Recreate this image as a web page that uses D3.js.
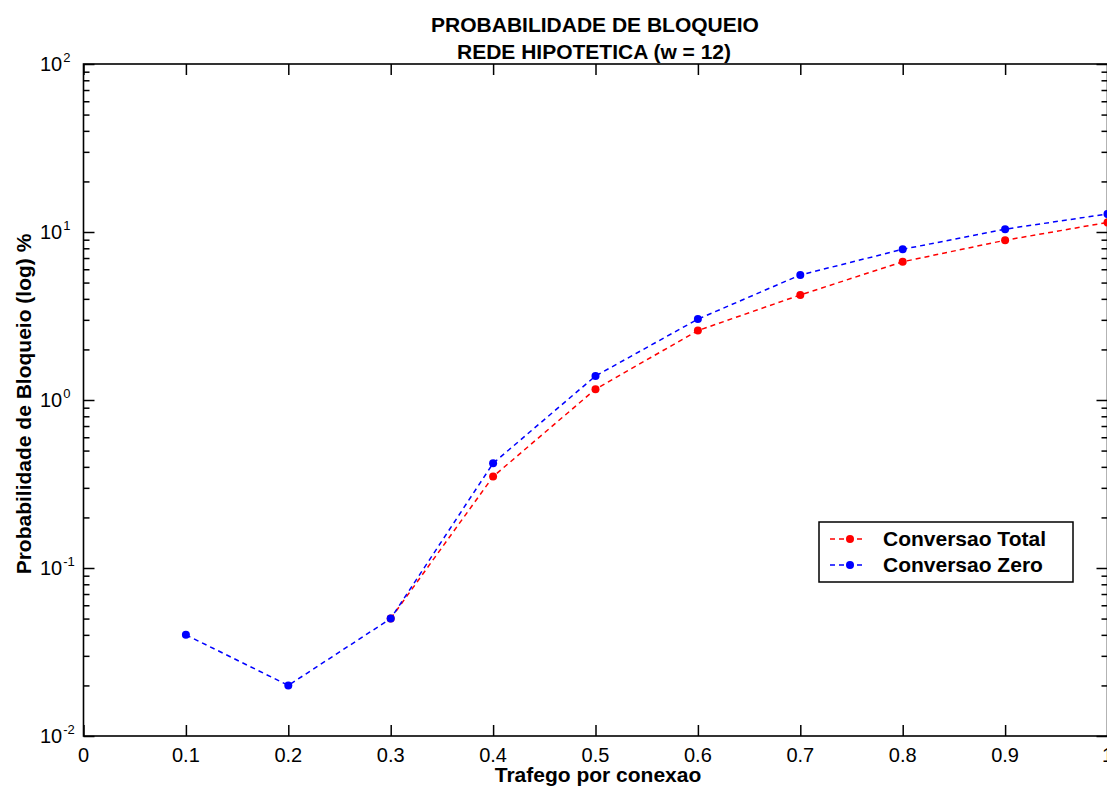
<!DOCTYPE html>
<html>
<head>
<meta charset="utf-8">
<script src="https://cdn.jsdelivr.net/npm/d3@7"></script>
<style>
  html, body { margin: 0; padding: 0; background: #fff; }
  svg { display: block; font-family: "Liberation Sans", Arial, sans-serif; }
  .domain { display: none; }
</style>
</head>
<body>
<svg id="chart" width="1107" height="787"></svg>
<script>
// Traffic per connection (x) and blocking probability in % (log scale)
const trafego = [0.1, 0.2, 0.3, 0.4, 0.5, 0.6, 0.7, 0.8, 0.9, 1.0];
const conversaoTotal = [null, null, 0.05, 0.35, 1.16, 2.59, 4.22, 6.65, 8.93, 11.4];
const conversaoZero  = [0.04, 0.02, 0.05, 0.42, 1.39, 3.03, 5.55, 7.89, 10.4, 12.8];
const xTicks = [0, 0.1, 0.2, 0.3, 0.4, 0.5, 0.6, 0.7, 0.8, 0.9, 1];
const xTickLabels = ["0", "0.1", "0.2", "0.3", "0.4", "0.5", "0.6", "0.7", "0.8", "0.9", "1"];
const yExponents = [-2, -1, 0, 1, 2];
const seriesNames = ["Conversao Total", "Conversao Zero"];
const seriesColors = ["#ff0000", "#0000ff"];

const svg = d3.select("#chart");
const plotLeft = 83.5, plotRight = 1107.5, plotTop = 64, plotBottom = 736;

const x = d3.scaleLinear().domain([0, 1]).range([plotLeft, plotRight]);
const y = d3.scaleLog().domain([0.01, 100]).range([plotBottom, plotTop]);

// minor ticks 2..9 within each decade
const yMinor = [];
for (let e = -2; e < 2; e++) for (let m = 2; m <= 9; m++) yMinor.push(m * Math.pow(10, e));
const yMajor = yExponents.map(e => Math.pow(10, e));

const axisStyle = g => g.selectAll("line").attr("stroke", "#000").attr("stroke-width", 1.5);

// x ticks: bottom and top, pointing inward
svg.append("g").attr("transform", `translate(0,${plotBottom})`)
  .call(d3.axisBottom(x).tickValues(xTicks).tickSize(-11).tickFormat(""))
  .call(axisStyle);
svg.append("g").attr("transform", `translate(0,${plotTop})`)
  .call(d3.axisTop(x).tickValues(xTicks).tickSize(-11).tickFormat(""))
  .call(axisStyle);

// y ticks: left and right, major and minor
[[d3.axisLeft, plotLeft], [d3.axisRight, plotRight]].forEach(([mk, pos]) => {
  svg.append("g").attr("transform", `translate(${pos},0)`)
    .call(mk(y).tickValues(yMajor).tickSize(-11).tickFormat(""))
    .call(axisStyle);
  svg.append("g").attr("transform", `translate(${pos},0)`)
    .call(mk(y).tickValues(yMinor).tickSize(-6).tickFormat(""))
    .call(axisStyle);
});

// frame
svg.append("rect")
  .attr("x", plotLeft).attr("y", plotTop)
  .attr("width", plotRight - plotLeft).attr("height", plotBottom - plotTop)
  .attr("fill", "none").attr("stroke", "#000").attr("stroke-width", 1.6);

// x tick labels
svg.append("g").selectAll("text").data(xTicks).join("text")
  .attr("x", d => x(d)).attr("y", plotBottom + 26)
  .attr("text-anchor", "middle")
  .attr("font-size", 20).attr("fill", "#000")
  .text((d, i) => xTickLabels[i]);

// y tick labels as powers of ten
const yl = svg.append("g").selectAll("text").data(yExponents).join("text")
  .attr("x", 40).attr("y", e => y(Math.pow(10, e)) + 7)
  .attr("font-size", 20).attr("fill", "#000");
yl.append("tspan").text("10");
yl.append("tspan").attr("dy", -9).attr("dx", 1).attr("font-size", 13).text(e => String(e));

// series
const line = d3.line()
  .defined(d => d[1] != null)
  .x(d => x(d[0])).y(d => y(d[1]));

[conversaoTotal, conversaoZero].forEach((vals, i) => {
  const pts = trafego.map((t, j) => [t, vals[j]]);
  svg.append("path").datum(pts)
    .attr("d", line)
    .attr("fill", "none").attr("stroke", seriesColors[i])
    .attr("stroke-width", 1.5).attr("stroke-dasharray", "5,4");
  svg.append("g").selectAll("circle").data(pts.filter(d => d[1] != null)).join("circle")
    .attr("cx", d => x(d[0])).attr("cy", d => y(d[1]))
    .attr("r", 4).attr("fill", seriesColors[i]);
});

// title
svg.append("text").attr("x", 595).attr("y", 32).attr("text-anchor", "middle")
  .attr("font-size", 21).attr("font-weight", "bold").text("PROBABILIDADE DE BLOQUEIO");
svg.append("text").attr("x", 594).attr("y", 59).attr("text-anchor", "middle")
  .attr("font-size", 21).attr("font-weight", "bold").text("REDE HIPOTETICA (w = 12)");

// axis titles
svg.append("text").attr("x", 598).attr("y", 782).attr("text-anchor", "middle")
  .attr("font-size", 21).attr("font-weight", "bold").text("Trafego por conexao");
svg.append("text").attr("transform", "translate(31,404) rotate(-90)")
  .attr("text-anchor", "middle")
  .attr("font-size", 21).attr("font-weight", "bold").text("Probabilidade de Bloqueio (log) %");

// legend
const lg = svg.append("g");
lg.append("rect").attr("x", 819).attr("y", 522).attr("width", 254).attr("height", 60)
  .attr("fill", "#fff").attr("stroke", "#000").attr("stroke-width", 1.5);
seriesNames.forEach((name, i) => {
  const cy = 539 + i * 26;
  lg.append("line").attr("x1", 830).attr("x2", 866).attr("y1", cy).attr("y2", cy)
    .attr("stroke", seriesColors[i]).attr("stroke-width", 1.5).attr("stroke-dasharray", "5,4");
  lg.append("circle").attr("cx", 850).attr("cy", cy).attr("r", 4).attr("fill", seriesColors[i]);
  lg.append("text").attr("x", 883).attr("y", cy + 7)
    .attr("font-size", 21).attr("font-weight", "bold").text(name);
});
</script>
</body>
</html>
